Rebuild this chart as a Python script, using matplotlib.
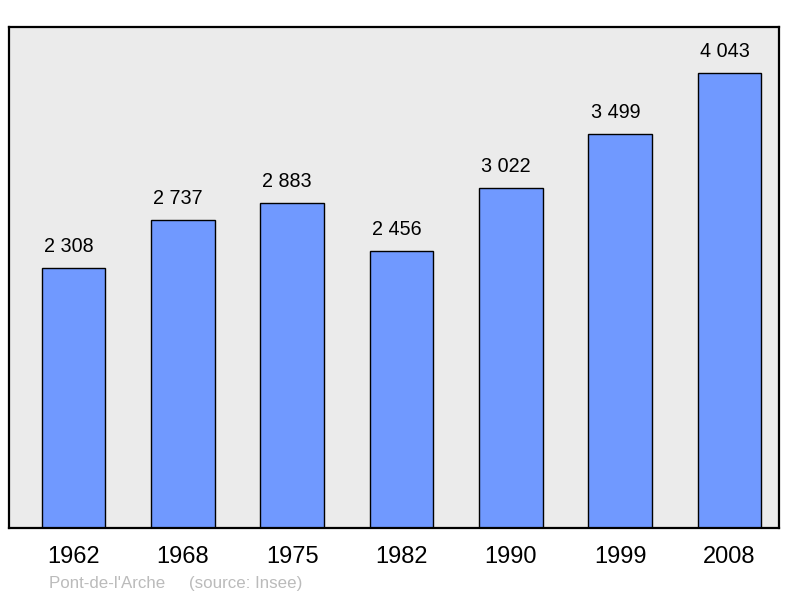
import numpy as np
from matplotlib import pyplot as plt

plt.rcParams['font.family'] = ['Liberation Sans', 'DejaVu Sans']

years = ['1962', '1968', '1975', '1982', '1990', '1999', '2008']
population = [2308, 2737, 2883, 2456, 3022, 3499, 4043]
value_labels = ['2 308', '2 737', '2 883', '2 456', '3 022', '3 499', '4 043']

fig = plt.figure(figsize=(8, 5.98), dpi=100)
ax = fig.add_axes([0.01125, 0.117, 0.9625, 0.838])
ax.set_facecolor('#ebebeb')

x = np.arange(len(years))
ax.bar(x, population, width=0.58, color='#7099ff', edgecolor='black', linewidth=1.0)

# value labels sit a little left of the bar centre in the original
for xi, v, lab in zip(x, population, value_labels):
    ax.annotate(lab, (xi, v), xytext=(-3.5, 15.5), textcoords='offset points',
                ha='center', va='center', fontsize=14.2)

ax.set_xlim(-0.59, 6.453)
ax.set_ylim(0, 4450)
ax.set_xticks(x)
ax.set_xticklabels(years, fontsize=17)
ax.tick_params(axis='x', length=0, pad=13)
ax.set_yticks([])
for s in ax.spines.values():
    s.set_linewidth(1.6)

fig.text(0.061, 0.025, "Pont-de-l'Arche     (source: Insee)", color='#bbbbbb',
         fontsize=12.2, ha='left', va='center')

fig.savefig('out.png', dpi=100)
